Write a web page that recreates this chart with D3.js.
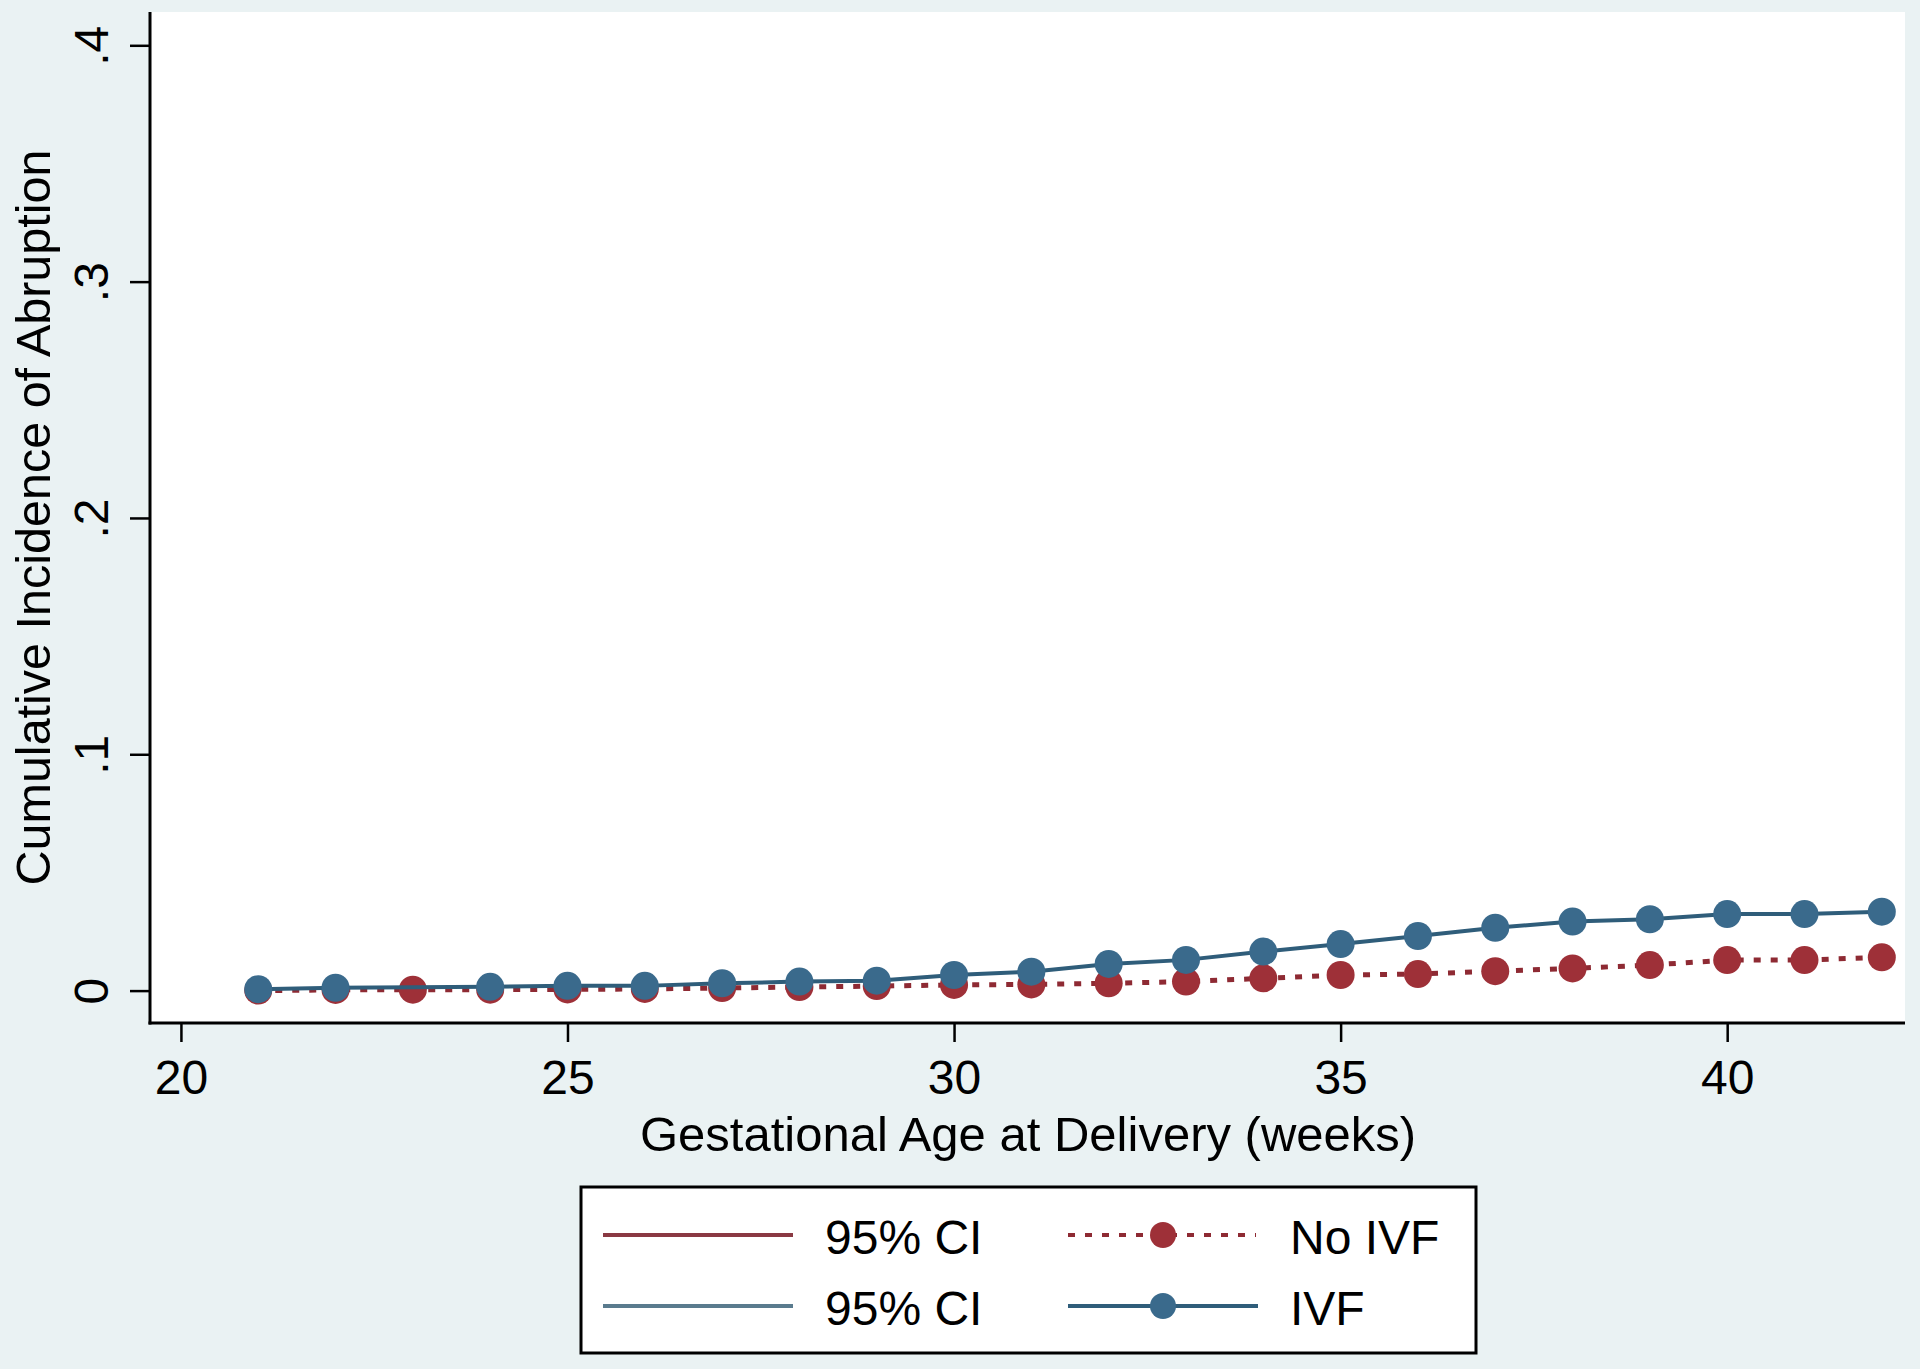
<!DOCTYPE html>
<html>
<head>
<meta charset="utf-8">
<script src="https://cdn.jsdelivr.net/npm/d3@7"></script>
<style>
  html, body { margin: 0; padding: 0; background: #eaf2f3; }
  svg { display: block; }
  text { font-family: "Liberation Sans", Arial, Helvetica, sans-serif; fill: #000; }
</style>
</head>
<body>
<svg id="chart" width="1920" height="1369"></svg>
<script>
// ---------- data ----------
const noIvfWeeks = [21,22,23,24,25,26,27,28,29,30,31,32,33,34,35,36,37,38,39,40,41,42];
const noIvfValues = [0.0000,0.0003,0.0004,0.0004,0.0005,0.0007,0.0011,0.0015,0.0019,0.0024,0.0026,
                     0.0031,0.0038,0.0052,0.0066,0.0070,0.0082,0.0094,0.0108,0.0129,0.0129,0.0141];
const ivfWeeks = [21,22,24,25,26,27,28,29,30,31,32,33,34,35,36,37,38,39,40,41,42];
const ivfValues = [0.0006,0.0012,0.0016,0.0020,0.0020,0.0031,0.0038,0.0042,0.0066,0.0080,
                   0.0113,0.0130,0.0165,0.0197,0.0231,0.0266,0.0292,0.0302,0.0324,0.0324,0.0334];
const xTicks = [20,25,30,35,40];
const xTickLabels = ["20","25","30","35","40"];
const yTicks = [0,0.1,0.2,0.3,0.4];
const yTickLabels = ["0",".1",".2",".3",".4"];
const xTitle = "Gestational Age at Delivery (weeks)";
const yTitle = "Cumulative Incidence of Abruption";
const legendLabels = ["95% CI","No IVF","95% CI","IVF"];

// ---------- layout ----------
const plotL = 150, plotR = 1905, plotT = 12, plotB = 1023;
const RED = "#9e3038", RED_LINE = "#8e2a33", RED_CI = "#8a3943";
const BLUE = "#3a6a8c", BLUE_LINE = "#2f5d7a", BLUE_CI = "#5a7b8e";

const svg = d3.select("#chart");
svg.append("rect").attr("width",1920).attr("height",1369).attr("fill","#eaf2f3");
svg.append("rect").attr("x",plotL).attr("y",plotT).attr("width",plotR-plotL).attr("height",plotB-plotT).attr("fill","#ffffff");

const x = d3.scaleLinear().domain([19.6, 42.3]).range([plotL, plotR]);
const y = d3.scaleLinear().domain([0, 0.4]).range([990.6, 45.3]);

// axes
const xAxis = d3.axisBottom(x).tickValues(xTicks).tickFormat((d,i)=>xTickLabels[i]).tickSize(19).tickPadding(18);
const gx = svg.append("g").attr("transform",`translate(0,${plotB})`).call(xAxis);
gx.select(".domain").remove();
gx.selectAll(".tick line").attr("stroke","#000").attr("stroke-width",2.5);
gx.selectAll(".tick text").attr("font-size",48).attr("font-family","Liberation Sans, Arial, sans-serif").attr("fill","#000");

const yAxis = d3.axisLeft(y).tickValues(yTicks).tickFormat((d,i)=>yTickLabels[i]).tickSize(20).tickPadding(0);
const gy = svg.append("g").attr("transform",`translate(${plotL},0)`).call(yAxis);
gy.select(".domain").remove();
gy.selectAll(".tick line").attr("stroke","#000").attr("stroke-width",2.5);
gy.selectAll(".tick text")
  .attr("font-size",48).attr("font-family","Liberation Sans, Arial, sans-serif").attr("fill","#000")
  .attr("x",null).attr("dy",null)
  .attr("text-anchor","middle")
  .attr("transform","translate(-42,0) rotate(-90)");

// axis lines
svg.append("line").attr("x1",plotL).attr("x2",plotL).attr("y1",plotT).attr("y2",plotB+1.5).attr("stroke","#000").attr("stroke-width",3);
svg.append("line").attr("x1",plotL-1.5).attr("x2",plotR).attr("y1",plotB).attr("y2",plotB).attr("stroke","#000").attr("stroke-width",3);

// titles
svg.append("text").attr("x",1028).attr("y",1151).attr("text-anchor","middle").attr("font-size",49).text(xTitle);
svg.append("text").attr("transform",`translate(50,${(plotT+plotB)/2}) rotate(-90)`).attr("text-anchor","middle").attr("font-size",48.5).text(yTitle);

// series
const noIvf = noIvfWeeks.map((w,i)=>({w, v:noIvfValues[i]}));
const ivf = ivfWeeks.map((w,i)=>({w, v:ivfValues[i]}));
const line = d3.line().x(d=>x(d.w)).y(d=>y(d.v));

svg.append("path").datum(noIvf).attr("d",line).attr("fill","none").attr("stroke",RED_LINE)
  .attr("stroke-width",5).attr("stroke-dasharray","7,10");
svg.append("g").selectAll("circle").data(noIvf).join("circle")
  .attr("cx",d=>x(d.w)).attr("cy",d=>y(d.v)).attr("r",14).attr("fill",RED);

svg.append("path").datum(ivf).attr("d",line).attr("fill","none").attr("stroke",BLUE_LINE).attr("stroke-width",4);
svg.append("g").selectAll("circle").data(ivf).join("circle")
  .attr("cx",d=>x(d.w)).attr("cy",d=>y(d.v)).attr("r",14).attr("fill",BLUE);

// legend
const lg = svg.append("g");
lg.append("rect").attr("x",581).attr("y",1187).attr("width",895).attr("height",166).attr("fill","#fff").attr("stroke","#000").attr("stroke-width",3);
const row1 = 1235, row2 = 1306;
lg.append("line").attr("x1",603).attr("x2",793).attr("y1",row1).attr("y2",row1).attr("stroke",RED_CI).attr("stroke-width",4);
lg.append("line").attr("x1",603).attr("x2",793).attr("y1",row2).attr("y2",row2).attr("stroke",BLUE_CI).attr("stroke-width",4);
lg.append("line").attr("x1",1068).attr("x2",1256).attr("y1",row1).attr("y2",row1).attr("stroke",RED_LINE).attr("stroke-width",4).attr("stroke-dasharray","7,10");
lg.append("circle").attr("cx",1163).attr("cy",row1).attr("r",13).attr("fill",RED);
lg.append("line").attr("x1",1068).attr("x2",1258).attr("y1",row2).attr("y2",row2).attr("stroke",BLUE_LINE).attr("stroke-width",4);
lg.append("circle").attr("cx",1163).attr("cy",row2).attr("r",13).attr("fill",BLUE);
lg.append("text").attr("x",825).attr("y",row1+19).attr("font-size",48).text(legendLabels[0]);
lg.append("text").attr("x",1290).attr("y",row1+19).attr("font-size",48).text(legendLabels[1]);
lg.append("text").attr("x",825).attr("y",row2+19).attr("font-size",48).text(legendLabels[2]);
lg.append("text").attr("x",1290).attr("y",row2+19).attr("font-size",48).text(legendLabels[3]);
</script>
</body>
</html>
